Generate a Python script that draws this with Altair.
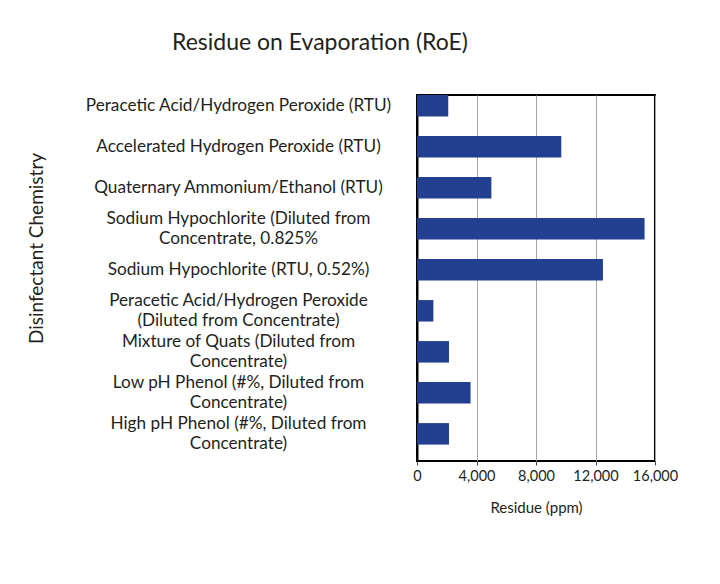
import altair as alt
import pandas as pd

categories = [
    "Peracetic Acid/Hydrogen Peroxide (RTU)",
    "Accelerated Hydrogen Peroxide (RTU)",
    "Quaternary Ammonium/Ethanol (RTU)",
    "Sodium Hypochlorite (Diluted from|Concentrate, 0.825%",
    "Sodium Hypochlorite (RTU, 0.52%)",
    "Peracetic Acid/Hydrogen Peroxide|(Diluted from Concentrate)",
    "Mixture of Quats (Diluted from|Concentrate)",
    "Low pH Phenol (#%, Diluted from|Concentrate)",
    "High pH Phenol (#%, Diluted from|Concentrate)",
]
residue = [2100, 9700, 5000, 15300, 12500, 1100, 2150, 3600, 2150]
x_ticks = [0, 4000, 8000, 12000, 16000]

df = pd.DataFrame({"chem": categories, "residue": residue})

FONT = "Lato"
TXT = "#231f20"

chart = (
    alt.Chart(df)
    .mark_bar(color="#233f8f")
    .encode(
        x=alt.X(
            "residue:Q",
            scale=alt.Scale(domain=[0, 16000], nice=False),
            axis=alt.Axis(
                values=x_ticks,
                format=",.0f",
                title="Residue (ppm)",
                titleFont=FONT,
                titleFontSize=15,
                titleFontWeight="normal",
                titleColor=TXT,
                titlePadding=18,
                labelFont=FONT,
                labelFontSize=14.5,
                labelColor=TXT,
                labelPadding=4,
                labelOverlap=False,
                labelFlush=False,
                tickSize=4,
                tickColor="#444444",
                domain=False,
                grid=True,
                gridColor="#a6a6a6",
                gridWidth=1,
            ),
        ),
        y=alt.Y(
            "chem:N",
            sort=categories,
            scale=alt.Scale(paddingInner=0.476, paddingOuter=0.2, align=0),
            axis=alt.Axis(
                title="Disinfectant Chemistry",
                titleFont=FONT,
                titleFontSize=19,
                titleFontWeight="normal",
                titleColor=TXT,
                titleX=-381,
                titleY=153,
                titleAngle=-90,
                titleBaseline="middle",
                titleAlign="center",
                labelExpr="split(datum.label, '|')",
                labelAlign="center",
                labelBaseline="middle",
                labelOffset={
                    "condition": {"test": "indexof(datum.value, '|') >= 0", "value": -10},
                    "value": 0,
                },
                labelPadding=179,
                labelLimit=0,
                labelFont=FONT,
                labelFontSize=17.2,
                labelColor=TXT,
                labelLineHeight=20,
                ticks=False,
                domainColor="black",
                domainWidth=2,
                grid=False,
            ),
        ),
    )
    .properties(
        width=238,
        height=366,
        title=alt.TitleParams(
            "Residue on Evaporation (RoE)",
            fontSize=23,
            fontWeight="normal",
            font=FONT,
            color=TXT,
            anchor="start",
            frame="bounds",
            dx=145,
            offset=40,
        ),
        padding={"left": 19, "top": 24, "right": 30, "bottom": 20},
    )
    .configure(background="white", font=FONT)
    .configure_view(stroke="black", strokeWidth=2)
)

chart.save("out.html", embed_options={"renderer": "svg", "actions": False})
